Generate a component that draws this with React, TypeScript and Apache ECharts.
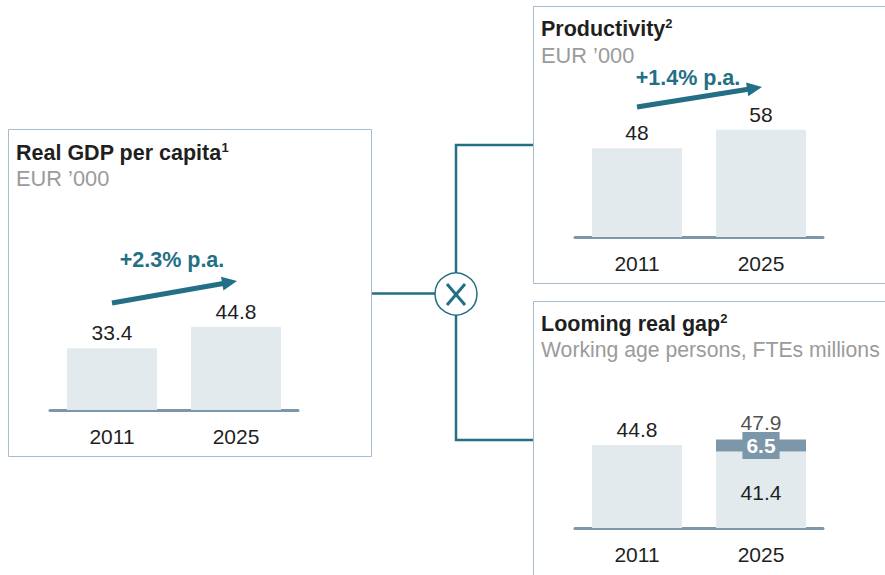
import React, { useEffect, useRef } from "react";
import * as echarts from "echarts";

const categories = ["2011", "2025"];
const gdpValues = [33.4, 44.8];
const productivityValues = [48, 58];
const gapBase = [44.8, 41.4];
const gapShortfall: (number | string)[] = ["-", 6.5];
const gapTotal = [47.9];
const growthLabels = ["+2.3% p.a.", "+1.4% p.a."];
const titles = ["Real GDP per capita", "Productivity", "Looming real gap"];
const footnotes = ["1", "2", "2"];
const subtitles = ["EUR \u2019000", "EUR \u2019000", "Working age persons, FTEs millions"];

const FONT = "'Liberation Sans', Arial, sans-serif";
const TEAL = "#236f85";
const BOX = "#a9bccb";
const LIGHT = "#e3eaee";
const DARK = "#7c97a9";
const INK = "#1f1f1f";
const GREY = "#9b9b9b";
const NUM = 21;

function arrow(x1: number, y1: number, x2: number, y2: number) {
  const dx = x2 - x1, dy = y2 - y1;
  const len = Math.sqrt(dx * dx + dy * dy);
  const ux = dx / len, uy = dy / len;
  const nx = -uy, ny = ux;
  const hl = 15, hw = 7;
  const bx = x2 - hl * ux, by = y2 - hl * uy;
  return [
    { type: "line", shape: { x1, y1, x2: bx + ux, y2: by + uy }, style: { stroke: TEAL, lineWidth: 5 } },
    {
      type: "polygon",
      shape: { points: [[x2, y2], [bx + hw * nx, by + hw * ny], [bx - hw * nx, by - hw * ny]] },
      style: { fill: TEAL },
    },
  ];
}

function textEl(x: number, y: number, text: string, opts: any) {
  return {
    type: "text",
    x,
    y,
    style: { text, fontFamily: FONT, verticalAlign: "middle", ...opts },
  };
}

function titleEl(x: number, y: number, title: string, note: string) {
  return {
    type: "text",
    x,
    y,
    style: {
      text: title + "{sup|" + note + "}",
      fontFamily: FONT,
      fontSize: 21.5,
      fontWeight: "bold",
      fill: INK,
      align: "left",
      verticalAlign: "middle",
      lineHeight: 24,
      rich: {
        sup: {
          fontFamily: FONT,
          fontSize: 13,
          fontWeight: "bold",
          fill: INK,
          verticalAlign: "top",
          lineHeight: 15,
        },
      },
    },
  };
}

export default function App() {
  const ref = useRef<HTMLDivElement>(null);
  useEffect(() => {
    if (!ref.current) return;
    const chart = echarts.init(ref.current, undefined, { renderer: "svg" });
    const gridH = 129.5;
    const grids = [
      { left: 50, width: 248, top: 410 - gridH, height: gridH },
      { left: 575, width: 248, top: 237 - gridH, height: gridH },
      { left: 575, width: 248, top: 528 - gridH, height: gridH },
    ];
    const xAxes = grids.map((_, i) => ({
      type: "category",
      gridIndex: i,
      data: categories,
      axisTick: { show: false },
      axisLine: { show: true, lineStyle: { color: DARK, width: 3 } },
      axisLabel: { color: INK, fontSize: NUM, fontFamily: FONT, margin: 16 },
    }));
    const yAxes = grids.map((_, i) => ({
      type: "value",
      gridIndex: i,
      min: 0,
      max: 70,
      show: false,
      splitLine: { show: false },
    }));
    const topLabel = { show: true, position: "top", distance: 5, color: INK, fontSize: NUM, fontFamily: FONT };
    const series: any[] = [
      {
        type: "bar",
        xAxisIndex: 0,
        yAxisIndex: 0,
        data: gdpValues,
        barWidth: 90,
        itemStyle: { color: LIGHT },
        label: topLabel,
      },
      {
        type: "bar",
        xAxisIndex: 1,
        yAxisIndex: 1,
        data: productivityValues,
        barWidth: 90,
        itemStyle: { color: LIGHT },
        label: topLabel,
      },
      {
        type: "bar",
        xAxisIndex: 2,
        yAxisIndex: 2,
        stack: "gap",
        barWidth: 90,
        itemStyle: { color: LIGHT },
        data: gapBase.map((v, i) =>
          i === 0
            ? { value: v, label: { ...topLabel } }
            : { value: v, label: { show: true, position: "inside", offset: [0, 3], color: INK, fontSize: NUM, fontFamily: FONT } }
        ),
      },
      {
        type: "bar",
        xAxisIndex: 2,
        yAxisIndex: 2,
        stack: "gap",
        barWidth: 90,
        itemStyle: { color: DARK },
        data: gapShortfall,
        label: {
          show: true,
          position: "inside",
          color: "#ffffff",
          fontWeight: "bold",
          fontSize: NUM,
          fontFamily: FONT,
          backgroundColor: DARK,
          padding: [4, 4, 2, 4],
        },
      },
      {
        type: "scatter",
        xAxisIndex: 2,
        yAxisIndex: 2,
        symbolSize: 0,
        data: gapTotal.map((v) => [1, v]),
        label: {
          show: true,
          position: "top",
          distance: 6,
          color: INK,
          fontSize: NUM,
          fontFamily: FONT,
          formatter: (p: any) => String(p.value[1]),
        },
      },
    ];

    const graphic: any[] = [
      { type: "rect", shape: { x: 8.5, y: 129.5, width: 363, height: 327 }, style: { fill: "none", stroke: BOX, lineWidth: 1 } },
      { type: "rect", shape: { x: 533.5, y: 6.5, width: 400, height: 277 }, style: { fill: "none", stroke: BOX, lineWidth: 1 } },
      { type: "rect", shape: { x: 533.5, y: 301.5, width: 400, height: 300 }, style: { fill: "none", stroke: BOX, lineWidth: 1 } },
      { type: "line", shape: { x1: 372, y1: 293.5, x2: 436, y2: 293.5 }, style: { stroke: TEAL, lineWidth: 2.5 } },
      { type: "polyline", shape: { points: [[533, 145], [456, 145], [456, 273]] }, style: { fill: "none", stroke: TEAL, lineWidth: 2.5 } },
      { type: "polyline", shape: { points: [[456, 315], [456, 440], [533, 440]] }, style: { fill: "none", stroke: TEAL, lineWidth: 2.5 } },
      { type: "circle", shape: { cx: 456, cy: 294, r: 21 }, style: { fill: "#ffffff", stroke: TEAL, lineWidth: 1.5 } },
      { type: "line", shape: { x1: 447, y1: 284, x2: 465, y2: 305 }, style: { stroke: TEAL, lineWidth: 3 } },
      { type: "line", shape: { x1: 465, y1: 284, x2: 447, y2: 305 }, style: { stroke: TEAL, lineWidth: 3 } },
      ...arrow(112, 303, 237, 281),
      ...arrow(637, 107, 762, 87),
      textEl(172, 260, growthLabels[0], { fill: TEAL, fontSize: 21.5, fontWeight: "bold", align: "center" }),
      textEl(688, 78, growthLabels[1], { fill: TEAL, fontSize: 21.5, fontWeight: "bold", align: "center" }),
      titleEl(16, 153, titles[0], footnotes[0]),
      textEl(16, 178, subtitles[0], { fill: GREY, fontSize: 21.8, align: "left" }),
      titleEl(541, 29, titles[1], footnotes[1]),
      textEl(541, 55, subtitles[1], { fill: GREY, fontSize: 21.8, align: "left" }),
      titleEl(541, 324, titles[2], footnotes[2]),
      textEl(541, 349, subtitles[2], { fill: GREY, fontSize: 21.2, align: "left" }),
    ];

    chart.setOption({
      animation: false,
      backgroundColor: "#ffffff",
      grid: grids,
      xAxis: xAxes,
      yAxis: yAxes,
      series,
      graphic,
    });
    return () => chart.dispose();
  }, []);
  return <div ref={ref} style={{ position: "fixed", left: 0, top: 0, width: 885, height: 575 }} />;
}
